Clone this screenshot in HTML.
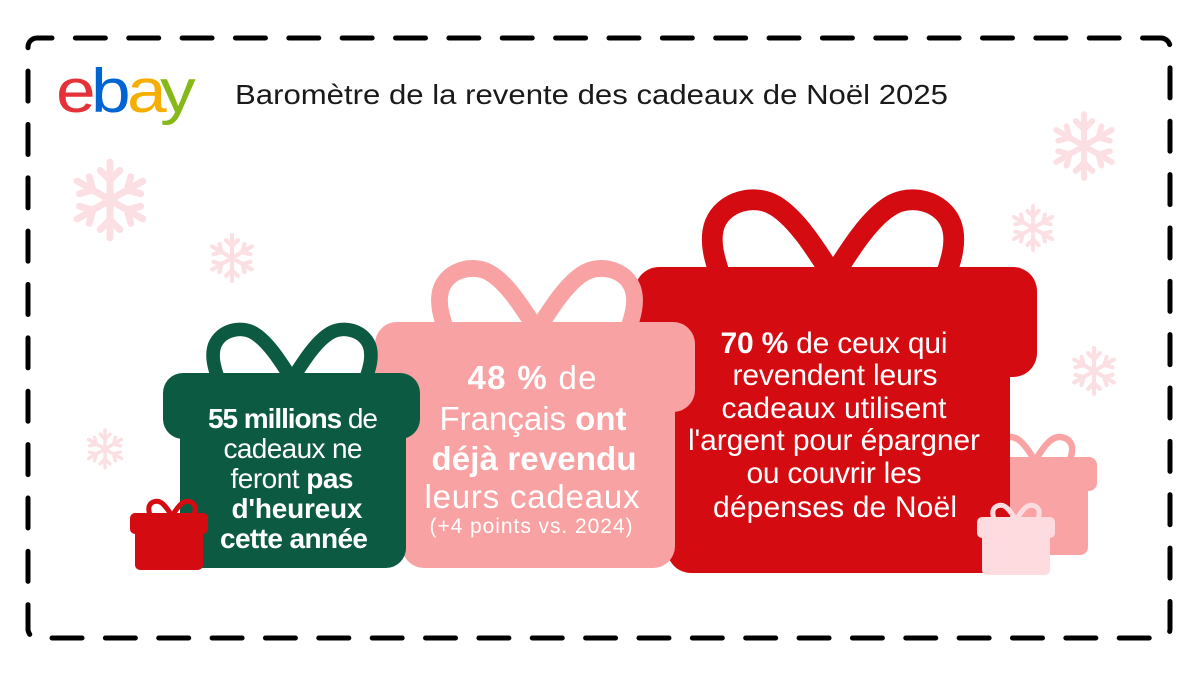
<!DOCTYPE html>
<html>
<head>
<meta charset="utf-8">
<style>
  html,body{margin:0;padding:0;background:#fff;}
  body{width:1200px;height:676px;overflow:hidden;}
  svg{display:block;}
  text{font-family:"Liberation Sans", "DejaVu Sans", sans-serif;}
</style>
</head>
<body>
<svg width="1200" height="676" viewBox="0 0 1200 676" xmlns="http://www.w3.org/2000/svg">
  <rect x="0" y="0" width="1200" height="676" fill="#ffffff"/>

  <!-- dashed border -->
  <rect x="28" y="38" width="1142" height="600" rx="9" ry="9" fill="none" stroke="#000" stroke-width="5" stroke-dasharray="30 23.36" stroke-dashoffset="15" stroke-linecap="round"/>

  <!-- logo -->
  <g font-size="62">
    <text transform="translate(56,112) scale(1.15,1)" fill="#e53238">e</text>
    <text transform="translate(91,112) scale(1.15,1)" fill="#0064d2">b</text>
    <text transform="translate(127,112) scale(1.15,1)" fill="#f5af02">a</text>
    <text transform="translate(160,112) scale(1.15,1)" fill="#86b817">y</text>
  </g>

  <!-- title -->
  <text x="235" y="104" font-size="28" fill="#1a1a1a" textLength="713" lengthAdjust="spacingAndGlyphs">Baromètre de la revente des cadeaux de Noël 2025</text>

  <!-- snowflakes -->
  <g stroke="#fbdfe3" stroke-width="9" stroke-linecap="round" fill="none">
    <g transform="translate(110,200) scale(0.76)">
      <path d="M0 0V-50M0-26L-13-39M0-26L13-39"/>
      <path transform="rotate(60)" d="M0 0V-50M0-26L-13-39M0-26L13-39"/>
      <path transform="rotate(120)" d="M0 0V-50M0-26L-13-39M0-26L13-39"/>
      <path transform="rotate(180)" d="M0 0V-50M0-26L-13-39M0-26L13-39"/>
      <path transform="rotate(240)" d="M0 0V-50M0-26L-13-39M0-26L13-39"/>
      <path transform="rotate(300)" d="M0 0V-50M0-26L-13-39M0-26L13-39"/>
    </g>
    <g transform="translate(232,258) scale(0.46)">
      <path d="M0 0V-50M0-26L-13-39M0-26L13-39"/>
      <path transform="rotate(60)" d="M0 0V-50M0-26L-13-39M0-26L13-39"/>
      <path transform="rotate(120)" d="M0 0V-50M0-26L-13-39M0-26L13-39"/>
      <path transform="rotate(180)" d="M0 0V-50M0-26L-13-39M0-26L13-39"/>
      <path transform="rotate(240)" d="M0 0V-50M0-26L-13-39M0-26L13-39"/>
      <path transform="rotate(300)" d="M0 0V-50M0-26L-13-39M0-26L13-39"/>
    </g>
    <g transform="translate(105,449) scale(0.38)">
      <path d="M0 0V-50M0-26L-13-39M0-26L13-39"/>
      <path transform="rotate(60)" d="M0 0V-50M0-26L-13-39M0-26L13-39"/>
      <path transform="rotate(120)" d="M0 0V-50M0-26L-13-39M0-26L13-39"/>
      <path transform="rotate(180)" d="M0 0V-50M0-26L-13-39M0-26L13-39"/>
      <path transform="rotate(240)" d="M0 0V-50M0-26L-13-39M0-26L13-39"/>
      <path transform="rotate(300)" d="M0 0V-50M0-26L-13-39M0-26L13-39"/>
    </g>
    <g transform="translate(1084,146) scale(0.64)">
      <path d="M0 0V-50M0-26L-13-39M0-26L13-39"/>
      <path transform="rotate(60)" d="M0 0V-50M0-26L-13-39M0-26L13-39"/>
      <path transform="rotate(120)" d="M0 0V-50M0-26L-13-39M0-26L13-39"/>
      <path transform="rotate(180)" d="M0 0V-50M0-26L-13-39M0-26L13-39"/>
      <path transform="rotate(240)" d="M0 0V-50M0-26L-13-39M0-26L13-39"/>
      <path transform="rotate(300)" d="M0 0V-50M0-26L-13-39M0-26L13-39"/>
    </g>
    <g transform="translate(1033,228) scale(0.44)">
      <path d="M0 0V-50M0-26L-13-39M0-26L13-39"/>
      <path transform="rotate(60)" d="M0 0V-50M0-26L-13-39M0-26L13-39"/>
      <path transform="rotate(120)" d="M0 0V-50M0-26L-13-39M0-26L13-39"/>
      <path transform="rotate(180)" d="M0 0V-50M0-26L-13-39M0-26L13-39"/>
      <path transform="rotate(240)" d="M0 0V-50M0-26L-13-39M0-26L13-39"/>
      <path transform="rotate(300)" d="M0 0V-50M0-26L-13-39M0-26L13-39"/>
    </g>
    <g transform="translate(1094,371) scale(0.46)">
      <path d="M0 0V-50M0-26L-13-39M0-26L13-39"/>
      <path transform="rotate(60)" d="M0 0V-50M0-26L-13-39M0-26L13-39"/>
      <path transform="rotate(120)" d="M0 0V-50M0-26L-13-39M0-26L13-39"/>
      <path transform="rotate(180)" d="M0 0V-50M0-26L-13-39M0-26L13-39"/>
      <path transform="rotate(240)" d="M0 0V-50M0-26L-13-39M0-26L13-39"/>
      <path transform="rotate(300)" d="M0 0V-50M0-26L-13-39M0-26L13-39"/>
    </g>
  </g>

  <!-- medium pink gift (right, behind red) -->
  <g fill="#f9a3a5">
    <g transform="translate(1035,459) scale(0.4)" fill="none" stroke="#f9a3a5" stroke-width="16" stroke-linejoin="round">
      <path d="M0 4 C-14 -18 -28 -40 -44 -50 C-60 -60 -84 -54 -91 -36 C-96 -22 -90 -6 -86 6"/>
      <path d="M0 4 C14 -18 28 -40 44 -50 C60 -60 84 -54 91 -36 C96 -22 90 -6 86 6"/>
    </g>
    <rect x="1000" y="457" width="97" height="34" rx="8"/>
    <rect x="1005" y="470" width="83" height="85" rx="8"/>
  </g>

  <!-- big red gift -->
  <g fill="#d50b12">
    <g transform="translate(833,271) scale(1.3)" fill="none" stroke="#d50b12" stroke-width="16" stroke-linejoin="round">
      <path d="M0 4 C-14 -18 -28 -40 -44 -50 C-60 -60 -84 -54 -91 -36 C-96 -22 -90 -6 -86 6"/>
      <path d="M0 4 C14 -18 28 -40 44 -50 C60 -60 84 -54 91 -36 C96 -22 90 -6 86 6"/>
    </g>
    <rect x="635" y="267" width="402" height="110" rx="24"/>
    <rect x="667" y="300" width="343" height="273" rx="24"/>
  </g>

  <!-- big pink gift -->
  <g fill="#f9a2a4">
    <g transform="translate(537,326) scale(1.05)" fill="none" stroke="#f9a2a4" stroke-width="16" stroke-linejoin="round">
      <path d="M0 4 C-14 -18 -28 -40 -44 -50 C-60 -60 -84 -54 -91 -36 C-96 -22 -90 -6 -86 6"/>
      <path d="M0 4 C14 -18 28 -40 44 -50 C60 -60 84 -54 91 -36 C96 -22 90 -6 86 6"/>
    </g>
    <rect x="375" y="322" width="320" height="90" rx="22"/>
    <rect x="402" y="350" width="273" height="218" rx="22"/>
  </g>

  <!-- green gift -->
  <g fill="#0b5a41">
    <g transform="translate(292,376) scale(0.85)" fill="none" stroke="#0b5a41" stroke-width="16" stroke-linejoin="round">
      <path d="M0 4 C-14 -18 -28 -40 -44 -50 C-60 -60 -84 -54 -91 -36 C-96 -22 -90 -6 -86 6"/>
      <path d="M0 4 C14 -18 28 -40 44 -50 C60 -60 84 -54 91 -36 C96 -22 90 -6 86 6"/>
    </g>
    <rect x="163" y="373" width="257" height="66" rx="20"/>
    <rect x="180" y="400" width="226" height="168" rx="20"/>
  </g>

  <!-- small red gift -->
  <g fill="#d50b12">
    <g transform="translate(172,515) scale(0.25)" fill="none" stroke="#d50b12" stroke-width="20" stroke-linejoin="round">
      <path d="M0 4 C-14 -18 -28 -40 -44 -50 C-60 -60 -84 -54 -91 -36 C-96 -22 -90 -6 -86 6"/>
      <path d="M0 4 C14 -18 28 -40 44 -50 C60 -60 84 -54 91 -36 C96 -22 90 -6 86 6"/>
    </g>
    <rect x="130" y="513" width="78" height="21" rx="5"/>
    <rect x="135" y="525" width="68" height="45" rx="5"/>
  </g>

  <!-- light small gift -->
  <g fill="#fddbdf">
    <g transform="translate(1016,519) scale(0.25)" fill="none" stroke="#fddbdf" stroke-width="20" stroke-linejoin="round">
      <path d="M0 4 C-14 -18 -28 -40 -44 -50 C-60 -60 -84 -54 -91 -36 C-96 -22 -90 -6 -86 6"/>
      <path d="M0 4 C14 -18 28 -40 44 -50 C60 -60 84 -54 91 -36 C96 -22 90 -6 86 6"/>
    </g>
    <rect x="977" y="517" width="78" height="21" rx="5"/>
    <rect x="982" y="530" width="68" height="45" rx="5"/>
  </g>

  <!-- green text -->
  <g fill="#ffffff" font-size="28" text-anchor="middle">
    <text x="293" y="428" textLength="170"><tspan font-weight="bold">55 millions</tspan> de</text>
    <text x="293" y="458" textLength="139">cadeaux ne</text>
    <text x="292" y="488" textLength="123">feront <tspan font-weight="bold">pas</tspan></text>
    <text x="297" y="518" textLength="131" font-weight="bold">d'heureux</text>
    <text x="294" y="548" textLength="148" font-weight="bold">cette année</text>
  </g>

  <!-- pink text -->
  <g fill="#ffffff" font-size="33" text-anchor="middle">
    <text x="532" y="389" textLength="129"><tspan font-weight="bold">48 %</tspan> de</text>
    <text x="533" y="430" textLength="187">Français <tspan font-weight="bold">ont</tspan></text>
    <text x="534" y="470" textLength="205" font-weight="bold">déjà revendu</text>
    <text x="532" y="508" textLength="215">leurs cadeaux</text>
    <text x="531" y="533" textLength="203" font-size="21">(+4 points vs. 2024)</text>
  </g>

  <!-- red text -->
  <g fill="#ffffff" font-size="30" text-anchor="middle">
    <text x="834" y="353" textLength="227"><tspan font-weight="bold">70 %</tspan> de ceux qui</text>
    <text x="835" y="385" textLength="205">revendent leurs</text>
    <text x="834" y="418" textLength="225">cadeaux utilisent</text>
    <text x="834" y="450" textLength="292">l'argent pour épargner</text>
    <text x="834" y="483" textLength="175">ou couvrir les</text>
    <text x="835" y="517" textLength="244">dépenses de Noël</text>
  </g>
</svg>
</body>
</html>
